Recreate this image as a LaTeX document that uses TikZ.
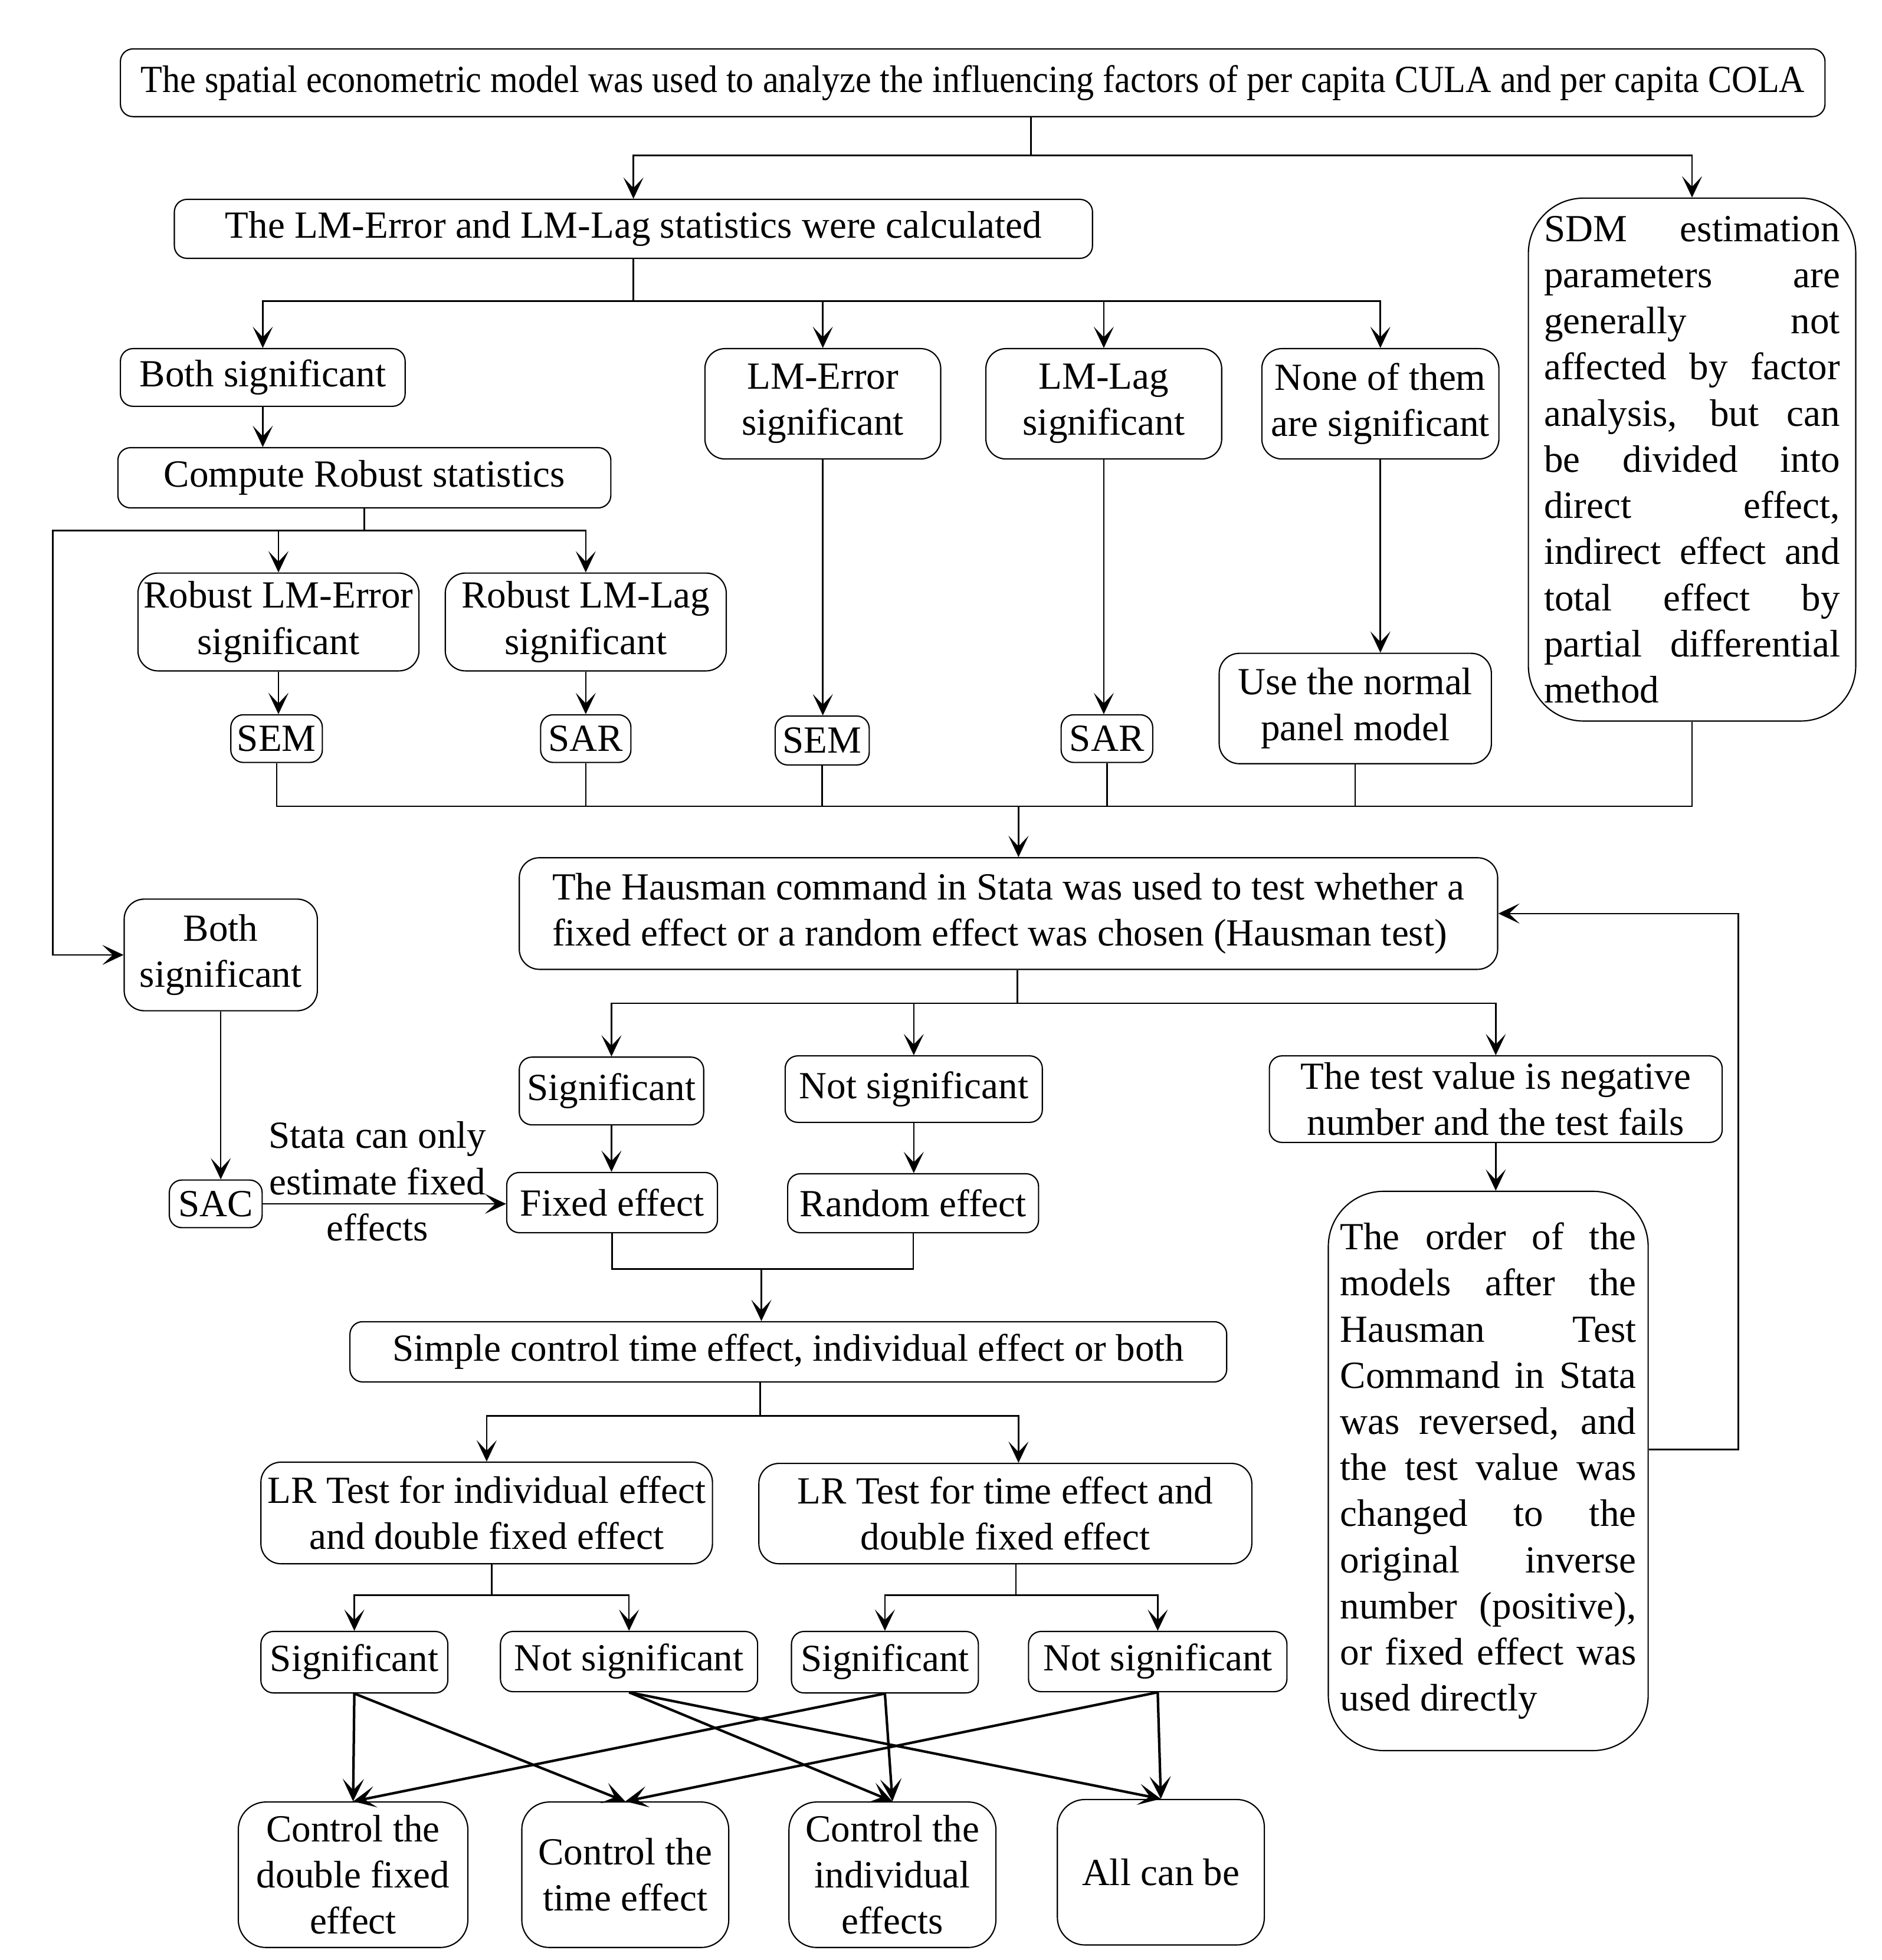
\documentclass[tikz,border=0pt]{standalone}
\usepackage{fontspec}
\setmainfont{Liberation Serif}
\usetikzlibrary{arrows.meta}
\newcommand\figfont{\fontsize{15.3}{18.4}\selectfont}
\newcommand\lb{\linebreak}
\begin{document}
\begin{tikzpicture}[x=0.5pt,y=-0.5pt,
  box/.style={draw, line width=0.5pt, rounded corners=5pt, inner sep=0pt, align=center, font=\figfont},
  mbox/.style={box, rounded corners=8pt},
  bbox/.style={box, rounded corners=11pt},
  jbox/.style={draw, line width=0.5pt, rounded corners=22pt, inner sep=0pt, text width=118pt, align=justify,
     font={\figfont\hyphenpenalty=10000\exhyphenpenalty=10000\tolerance=10000}},
  sz/.style 2 args={minimum width=#1*0.5pt, minimum height=#2*0.5pt},
  ln/.style={line width=0.6pt},
  arr/.style={ln, -{Stealth[length=8.5pt,width=8pt,inset=4.2pt]}},
  xarr/.style={line width=1pt, -{Stealth[length=9pt,width=8.5pt,inset=4.5pt]}},
  lbl/.style={inner sep=0pt, align=center, font=\figfont}]
\useasboundingbox (0,0) rectangle (1500,1563);
\fill[white] (0,0) rectangle (1500,1563);

% nodes
\node[box, sz={1359}{54}] (top) at (775.5,66) {\scalebox{0.925}[1]{The spatial econometric model was used to analyze the influencing factors of per capita CULA and per capita COLA}};
\node[box, sz={732}{47}] (lmc) at (505,182.5) {The LM-Error and LM-Lag statistics were calculated};
\node[jbox, sz={261}{417}] (sdm) at (1349,366.5) {SDM estimation\lb{} parameters are\lb{} generally not\lb{} affected by factor\lb{} analysis, but can\lb{} be divided into\lb{} direct effect,\lb{} indirect effect and\lb{} total effect by\lb{} partial differential\lb{} method};
\node[box, sz={227}{46}] (both1) at (209.5,301) {Both significant};
\node[box, sz={393}{48}] (comp) at (290.5,381) {Compute Robust statistics};
\node[mbox, sz={224}{78}] (rerr) at (222,496) {Robust LM-Error\\significant};
\node[mbox, sz={224}{78}] (rlag) at (467,496) {Robust LM-Lag\\significant};
\node[box, sz={73}{38}] (sem1) at (220.5,589) {SEM};
\node[box, sz={72}{38}] (sar1) at (467,589) {SAR};
\node[mbox, sz={188}{88}] (lme) at (656,322) {LM-Error\\significant};
\node[mbox, sz={188}{88}] (lml) at (880,322) {LM-Lag\\significant};
\node[mbox, sz={189}{88}] (none) at (1100.5,322) {None of them\\are significant};
\node[box, sz={75}{39}] (sem2) at (655.5,590.5) {SEM};
\node[box, sz={73}{38}] (sar2) at (882.5,589) {SAR};
\node[mbox, sz={217}{88}] (use) at (1080.5,565) {Use the normal\\panel model};
\node[mbox, sz={780}{89}, align=left] (haus) at (804,728.5) {The Hausman command in Stata was used to test whether a\\fixed effect or a random effect was chosen (Hausman test)};
\node[mbox, sz={154}{89}] (both2) at (176,761.5) {Both\\significant};
\node[box, sz={74}{38}] (sac) at (172,960) {SAC};
\node[box, sz={147}{54}] (sigH) at (487.5,870) {Significant};
\node[box, sz={205}{53}] (nsH) at (728.5,868.5) {Not significant};
\node[box, sz={361}{69}] (tv) at (1192.5,876.5) {The test value is negative\\number and the test fails};
\node[box, sz={168}{48}] (fix) at (488,959) {Fixed effect};
\node[box, sz={200}{47}] (rnd) at (728,959.5) {Random effect};
\node[jbox, sz={255}{446}] (order) at (1186.5,1173) {The order of the\lb{} models after the\lb{} Hausman Test\lb{} Command in Stata\lb{} was reversed, and\lb{} the test value was\lb{} changed to the\lb{} original inverse\lb{} number (positive),\lb{} or fixed effect was\lb{} used directly};
\node[box, sz={699}{48}] (simple) at (628.5,1078) {Simple control time effect, individual effect or both};
\node[mbox, sz={360}{81}] (lr1) at (388,1206.5) {LR Test for individual effect\\and double fixed effect};
\node[mbox, sz={393}{80}] (lr2) at (801.5,1207) {LR Test for time effect and\\double fixed effect};
\node[box, sz={149}{49}] (sig1) at (282.5,1325.5) {Significant};
\node[box, sz={205}{48}] (ns1) at (501.5,1325) {Not significant};
\node[box, sz={149}{49}] (sig2) at (705.5,1325.5) {Significant};
\node[box, sz={206}{48}] (ns2) at (923,1325) {Not significant};
\node[bbox, sz={183}{116}] (cd) at (281.5,1495) {Control the\\double fixed\\effect};
\node[bbox, sz={165}{116}] (ct) at (498.5,1495) {Control the\\time effect};
\node[bbox, sz={165}{116}] (ci) at (711.5,1495) {Control the\\individual\\effects};
\node[bbox, sz={165}{116}] (all) at (925.5,1493) {All can be};
\node[lbl] (note) at (301,942) {Stata can only\\estimate fixed\\effects};

% junction coordinates
\coordinate (j1) at (822,124);
\coordinate (j2) at (505,240);
\coordinate (j3) at (291,423);
\coordinate (j3l) at (42,423);
\coordinate (j4) at (812,643);
\coordinate (j5) at (811,800);
\coordinate (j6) at (1386,1156);
\coordinate (j7) at (607,1012);
\coordinate (j8) at (606,1129);
\coordinate (j9) at (392,1272);
\coordinate (j10) at (810,1272);

% top level
\draw[ln] (top.south -| j1) -- (j1);
\draw[arr] (j1) -| (lmc.north);
\draw[arr] (j1) -| (sdm.north);

\draw[ln] (lmc.south) -- (j2);
\draw[arr] (j2) -| (both1.north);
\draw[arr] (j2) -| (lme.north);
\draw[arr] (j2) -| (lml.north);
\draw[arr] (j2) -| (none.north);

\draw[arr] (both1.south) -- (both1.south |- comp.north);
\draw[ln] (comp.south) -- (comp.south |- j3);
\draw[arr] (j3) -| (rerr.north);
\draw[arr] (j3) -| (rlag.north);
\draw[arr] (j3) -- (j3l) |- (both2.west);

\draw[arr] (rerr.south) -- (rerr.south |- sem1.north);
\draw[arr] (rlag.south) -- (rlag.south |- sar1.north);
\draw[arr] (lme.south) -- (lme.south |- sem2.north);
\draw[arr] (lml.south) -- (lml.south |- sar2.north);
\draw[arr] (none.south) -- (none.south |- use.north);

% collector
\draw[ln] (sem1.south) -- (sem1.south |- j4) -- (sdm.south |- j4) -- (sdm.south);
\draw[ln] (sar1.south) -- (sar1.south |- j4);
\draw[ln] (sem2.south) -- (sem2.south |- j4);
\draw[ln] (sar2.south) -- (sar2.south |- j4);
\draw[ln] (use.south) -- (use.south |- j4);
\draw[arr] (j4) -- (j4 |- haus.north);

% SAC branch
\draw[arr] (both2.south) -- (both2.south |- sac.north);
\draw[arr] (sac.east) -- (sac.east -| fix.west);

% Hausman branch
\draw[ln] (haus.south -| j5) -- (j5);
\draw[arr] (j5) -| (sigH.north);
\draw[arr] (j5) -| (nsH.north);
\draw[arr] (j5) -| (tv.north);
\draw[arr] (sigH.south) -- (sigH.south |- fix.north);
\draw[arr] (nsH.south) -- (nsH.south |- rnd.north);
\draw[arr] (tv.south) -- (tv.south |- order.north);
\draw[arr] (order.east |- j6) -- (j6) |- (haus.east);

\draw[ln] (fix.south) |- (j7) -| (rnd.south);
\draw[arr] (j7) -- (j7 |- simple.north);

\draw[ln] (simple.south -| j8) -- (j8);
\draw[arr] (j8) -| (lr1.north);
\draw[arr] (j8) -| (812,0 |- lr2.north);

\draw[ln] (lr1.south -| j9) -- (j9);
\draw[arr] (j9) -| (sig1.north);
\draw[arr] (j9) -| (ns1.north);
\draw[ln] (lr2.south -| j10) -- (j10);
\draw[arr] (j10) -| (sig2.north);
\draw[arr] (j10) -| (ns2.north);

% crossing arrows
\draw[xarr] (sig1.south) -- (cd.north);
\draw[xarr] (sig1.south) -- (ct.north);
\draw[xarr] (ns1.south) -- (ci.north);
\draw[xarr] (ns1.south) -- (all.north);
\draw[xarr] (sig2.south) -- (cd.north);
\draw[xarr] (sig2.south) -- (ci.north);
\draw[xarr] (ns2.south) -- (ct.north);
\draw[xarr] (ns2.south) -- (all.north);
\end{tikzpicture}
\end{document}
